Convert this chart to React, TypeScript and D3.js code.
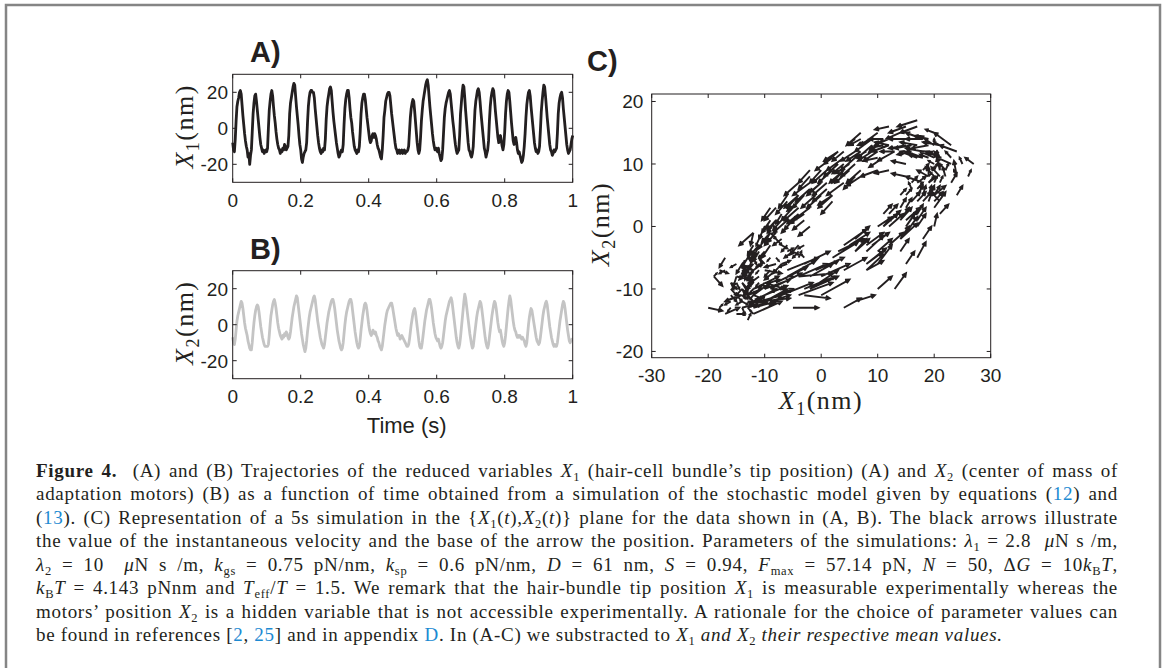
import { useEffect, useRef } from "react"
import * as d3 from "d3"

// samples of both traces, 2.5 ms apart (t = 0 .. 1 s)
const sampleStep = 0.0025

// hair-bundle tip position X1 (nm)
const x1Values = [
  -8, -12, -13, -6, 4, 12, 15, 17, 20, 21, 19, 13, 7, 2, -3, -7, -10, -12, -16, -14,
  -20, -15, -12, -2, 8, 14, 18, 19, 15, 10, 5, 0, -5, -9, -11, -13, -12, -14, -13, -12,
  -13, -11, 0, 10, 15, 19, 21, 18, 12, 7, 3, -2, -6, -9, -11, -12, -14, -12, -13, -11,
  -12, -9, -10, -12, -11, -10, -4, 8, 14, 17, 20, 23, 25, 24, 18, 12, 7, 2, -4, -9,
  -12, -17, -19, -16, -14, -13, -12, -8, 3, 12, 17, 20, 21, 21, 20, 20, 17, 11, 6, 1,
  -4, -8, -11, -13, -14, -12, -13, -11, -12, -6, 5, 12, 16, 19, 22, 23, 21, 15, 9, 4,
  0, -4, -8, -11, -14, -16, -15, -13, -12, -13, -9, 2, 11, 16, 19, 21, 21, 17, 11, 6,
  3, -2, -6, -10, -12, -13, -14, -12, -13, -10, -2, 8, 14, 17, 19, 19, 16, 11, 6, 2,
  -2, -6, -8, -7, -4, -3, -5, -3, -4, -6, -9, -11, -12, -14, -16, -17, -12, -4, 6, 10,
  15, 17, 19, 20, 20, 18, 13, 8, 4, 0, -4, -8, -11, -12, -14, -13, -12, -14, -13, -12,
  -14, -13, -12, -14, -13, -13, -12, -10, -2, 6, 11, 14, 16, 15, 10, 4, -2, -8, -12, -14,
  -12, -5, 4, 10, 15, 18, 21, 24, 26, 27, 24, 18, 12, 7, 2, -3, -7, -10, -12, -11,
  -12, -13, -11, -14, -16, -18, -17, -12, -3, 6, 11, 14, 16, 18, 20, 21, 19, 14, 9, 4,
  0, -5, -9, -12, -14, -13, -12, -4, 8, 14, 20, 24, 23, 17, 10, 4, -2, -8, -12, -13,
  -15, -16, -14, -10, 0, 10, 15, 18, 21, 22, 20, 15, 9, 4, -1, -6, -11, -13, -16, -14,
  -12, -7, 4, 12, 17, 20, 22, 21, 16, 10, 5, 0, -5, -8, -6, -4, -7, -10, -12, -9,
  -2, 8, 15, 19, 21, 20, 15, 9, 3, -2, -7, -9, -7, -5, -8, -12, -14, -13, -15, -17,
  -19, -18, -15, -10, -3, 6, 13, 17, 20, 21, 18, 12, 7, 2, -3, -8, -11, -13, -12, -14,
  -13, -10, -1, 9, 15, 20, 24, 23, 18, 12, 6, 1, -4, -9, -12, -13, -15, -14, -12, -13,
  -12, -11, -3, 8, 14, 17, 19, 20, 17, 11, 6, 1, -4, -9, -12, -14, -13, -12, -9, -6,
  -4,
]

// adaptation-motor position X2 (nm)
const x2Values = [
  -7, -10, -11, -8, -3, 2, 5, 7, 9, 11, 13, 12, 9, 5, 1, -2, -4, -6, -9, -11,
  -13, -14, -14, -10, -4, 1, 5, 8, 10, 11, 10, 7, 3, -1, -4, -7, -9, -11, -12, -12,
  -12, -12, -11, -6, 0, 5, 8, 11, 13, 14, 12, 9, 5, 1, -2, -4, -6, -7, -8, -6,
  -7, -5, -6, -4, -5, -7, -8, -7, -4, 0, 4, 7, 10, 12, 14, 16, 15, 11, 7, 3,
  -1, -5, -8, -11, -13, -15, -13, -9, -4, 0, 4, 7, 9, 11, 13, 15, 16, 14, 10, 6,
  2, -1, -4, -7, -9, -11, -12, -13, -11, -7, -3, 1, 4, 7, 9, 11, 13, 14, 14, 12,
  9, 5, 1, -3, -6, -9, -11, -13, -14, -13, -10, -5, 0, 4, 7, 9, 11, 13, 14, 14,
  12, 8, 4, 0, -4, -7, -10, -12, -13, -12, -8, -3, 1, 5, 8, 11, 12, 11, 8, 4,
  0, -3, -5, -6, -5, -3, -4, -5, -4, -6, -7, -9, -10, -12, -13, -14, -12, -8, -4, 0,
  3, 6, 8, 9, 10, 11, 12, 12, 10, 7, 4, 1, -2, -4, -6, -5, -6, -8, -7, -6,
  -7, -8, -9, -10, -11, -12, -12, -11, -8, -4, 0, 3, 6, 8, 9, 7, 3, -1, -5, -9,
  -12, -13, -13, -10, -6, -2, 2, 5, 8, 10, 12, 14, 14, 12, 9, 5, 1, -2, -5, -7,
  -8, -9, -8, -10, -12, -13, -12, -10, -6, -2, 2, 5, 7, 9, 11, 13, 14, 15, 13, 9,
  5, 1, -3, -7, -10, -12, -13, -11, -7, -2, 3, 8, 13, 17, 15, 11, 7, 3, -1, -5,
  -8, -11, -13, -12, -8, -4, 0, 4, 7, 9, 11, 13, 12, 9, 5, 1, -3, -7, -10, -12,
  -13, -11, -7, -3, 1, 5, 8, 11, 13, 12, 9, 5, 1, -2, -4, -3, -6, -9, -11, -12,
  -10, -6, -1, 4, 9, 13, 16, 14, 10, 6, 2, -1, -3, -4, -6, -7, -6, -7, -6, -7,
  -8, -7, -8, -9, -11, -12, -10, -5, 0, 4, 7, 9, 8, 5, 2, -1, -4, -7, -9, -10,
  -11, -10, -7, -3, 1, 5, 8, 10, 12, 13, 11, 7, 3, -1, -4, -7, -9, -11, -12, -11,
  -12, -12, -10, -6, -2, 2, 5, 8, 11, 13, 12, 9, 5, 1, -3, -6, -9, -10, -9, -8,
  -8,
]

const timeTicks = [0, 0.2, 0.4, 0.6, 0.8, 1]
const timeTickLabels = ["0", "0.2", "0.4", "0.6", "0.8", "1"]
const traceTicks = [-20, 0, 20]
const phaseXTicks = [-30, -20, -10, 0, 10, 20, 30]
const phaseYTicks = [-20, -10, 0, 10, 20]

const SANS = '"Liberation Sans", Arial, Helvetica, sans-serif'
const SERIF = '"Liberation Serif", "Times New Roman", serif'
const INK = "#231f20"
const LINK = "#1c8ad2"
const TICK = 4

const I = ({ children }: { children: any }) => <tspan fontStyle="italic">{children}</tspan>
const Sub = ({ children }: { children: any }) => (
  <tspan fontSize={12.5} baselineShift={-4}>{children}</tspan>
)
const Link = ({ children }: { children: any }) => <tspan fill={LINK}>{children}</tspan>

// X_n(nm) axis label in the math font
function MathLabel({ n, transform }: { n: string; transform: string }) {
  return (
    <text transform={transform} textAnchor="middle" fontFamily={SERIF} fontSize={26} letterSpacing={1.5} fill={INK}>
      <tspan fontStyle="italic">X</tspan>
      <tspan fontSize={18} baselineShift={-6}>{n}</tspan>
      <tspan>(nm)</tspan>
    </text>
  )
}

function TracePanel({
  values,
  color,
  top,
  letter,
  n,
  showTime,
}: {
  values: number[]
  color: string
  top: number
  letter: string
  n: string
  showTime?: boolean
}) {
  const left = 232.7
  const right = 572.7
  const bottom = top + 108
  const x = d3.scaleLinear().domain([0, 1]).range([left, right])
  const y = d3.scaleLinear().domain([-30, 30]).range([bottom, top])
  const line = d3
    .line<number>()
    .x((_, i) => x(i * sampleStep))
    .y((d) => y(d))

  return (
    <g>
      <text x={250} y={top - 12} fontFamily={SANS} fontWeight="bold" fontSize={29} fill={INK}>
        {letter}
      </text>
      <path d={line(values) ?? ""} fill="none" stroke={color} strokeWidth={2.8} strokeLinejoin="round" />
      <rect x={left} y={top} width={right - left} height={bottom - top} fill="none" stroke={INK} strokeWidth={1} />
      {timeTicks.map((t, i) => (
        <g key={t}>
          <line x1={x(t)} x2={x(t)} y1={bottom} y2={bottom - TICK} stroke={INK} />
          <line x1={x(t)} x2={x(t)} y1={top} y2={top + TICK} stroke={INK} />
          <text x={x(t)} y={bottom + 24.5} textAnchor="middle" fontFamily={SANS} fontSize={19} fill={INK}>
            {timeTickLabels[i]}
          </text>
        </g>
      ))}
      {traceTicks.map((v) => (
        <g key={v}>
          <line x1={left} x2={left + TICK} y1={y(v)} y2={y(v)} stroke={INK} />
          <line x1={right} x2={right - TICK} y1={y(v)} y2={y(v)} stroke={INK} />
          <text x={228} y={y(v)} dy="0.36em" textAnchor="end" fontFamily={SANS} fontSize={19} fill={INK}>
            {v}
          </text>
        </g>
      ))}
      <MathLabel n={n} transform={`translate(193,${(top + bottom) / 2 - 2}) rotate(-90)`} />
      {showTime && (
        <text x={406.7} y={bottom + 54} textAnchor="middle" fontFamily={SANS} fontSize={22} fill={INK}>
          Time (s)
        </text>
      )}
    </g>
  )
}

function PhasePanel() {
  const left = 651.7
  const right = 990.7
  const top = 94
  const bottom = 357.7
  const x = d3.scaleLinear().domain([-30, 30]).range([left, right])
  const y = d3.scaleLinear().domain([-21, 21.2]).range([bottom, top])
  const arrowScale = 0.5
  const headAngle = (26 * Math.PI) / 180

  // quiver: base at (X1, X2), pointing along the velocity to the next sample
  const arrows = x1Values.slice(0, -1).map((v, i) => {
    const x0 = x(v)
    const y0 = y(x2Values[i])
    const x1 = x0 + (x(x1Values[i + 1]) - x0) * arrowScale
    const y1 = y0 + (y(x2Values[i + 1]) - y0) * arrowScale
    const len = Math.hypot(x1 - x0, y1 - y0)
    if (len < 0.01) return ""
    const a = Math.atan2(y1 - y0, x1 - x0)
    const h = Math.min(len * 0.35, 4.5)
    const hx1 = x1 - h * Math.cos(a - headAngle)
    const hy1 = y1 - h * Math.sin(a - headAngle)
    const hx2 = x1 - h * Math.cos(a + headAngle)
    const hy2 = y1 - h * Math.sin(a + headAngle)
    return `M${x0},${y0}L${x1},${y1}M${hx1},${hy1}L${x1},${y1}L${hx2},${hy2}`
  })

  return (
    <g>
      <text x={587} y={71} fontFamily={SANS} fontWeight="bold" fontSize={29} fill={INK}>
        C)
      </text>
      <path d={arrows.join("")} fill="none" stroke={INK} strokeWidth={1.9} />
      <rect x={left} y={top} width={right - left} height={bottom - top} fill="none" stroke={INK} strokeWidth={1} />
      {phaseXTicks.map((t) => (
        <g key={t}>
          <line x1={x(t)} x2={x(t)} y1={bottom} y2={bottom - TICK} stroke={INK} />
          <line x1={x(t)} x2={x(t)} y1={top} y2={top + TICK} stroke={INK} />
          <text x={x(t)} y={bottom + 24} textAnchor="middle" fontFamily={SANS} fontSize={19} fill={INK}>
            {t}
          </text>
        </g>
      ))}
      {phaseYTicks.map((v) => (
        <g key={v}>
          <line x1={left} x2={left + TICK} y1={y(v)} y2={y(v)} stroke={INK} />
          <line x1={right} x2={right - TICK} y1={y(v)} y2={y(v)} stroke={INK} />
          <text x={643.3} y={y(v)} dy="0.36em" textAnchor="end" fontFamily={SANS} fontSize={19} fill={INK}>
            {v}
          </text>
        </g>
      ))}
      <MathLabel n="1" transform="translate(821,409)" />
      <MathLabel n="2" transform="translate(609,224) rotate(-90)" />
    </g>
  )
}

function Caption() {
  const ref = useRef<SVGGElement>(null)
  const x0 = 36
  const base = 476.5
  const gap = 23.5
  const full = 1082

  // justify lines 1-7 through the word spacing
  useEffect(() => {
    if (!ref.current) return
    ref.current.querySelectorAll<SVGTextElement>("text[data-justify]").forEach((t) => {
      t.style.wordSpacing = "0px"
      const natural = t.getComputedTextLength()
      const spaces = (t.textContent ?? "").split(" ").length - 1
      if (spaces > 0) t.style.wordSpacing = `${(full - natural) / spaces}px`
    })
  }, [])

  const props = (k: number, justify = true) => ({
    x: x0,
    y: base + k * gap,
    ...(justify ? { "data-justify": "1" } : {}),
    style: { whiteSpace: "pre" as const },
  })
  return (
    <g ref={ref} fontFamily={SERIF} fontSize={19} letterSpacing={0.7} fill={INK}>
      <text {...props(0)}>
        <tspan fontWeight="bold">Figure 4.</tspan>
        {"  (A) and (B) Trajectories of the reduced variables "}
        <I>X</I>
        <Sub>1</Sub>
        {" (hair-cell bundle’s tip position) (A) and "}
        <I>X</I>
        <Sub>2</Sub>
        {" (center of mass of"}
      </text>
      <text {...props(1)}>
        {"adaptation motors) (B) as a function of time obtained from a simulation of the stochastic model given by equations ("}
        <Link>12</Link>
        {") and"}
      </text>
      <text {...props(2)}>
        {"("}
        <Link>13</Link>
        {"). (C) Representation of a 5s simulation in the {"}
        <I>X</I>
        <Sub>1</Sub>
        {"("}
        <I>t</I>
        {"),"}
        <I>X</I>
        <Sub>2</Sub>
        {"("}
        <I>t</I>
        {")} plane for the data shown in (A, B). The black arrows illustrate"}
      </text>
      <text {...props(3)}>
        {"the value of the instantaneous velocity and the base of the arrow the position. Parameters of the simulations: "}
        <I>λ</I>
        <Sub>1</Sub>
        {" = 2.8  "}
        <I>μ</I>
        {"N s /m,"}
      </text>
      <text {...props(4)}>
        <I>λ</I>
        <Sub>2</Sub>
        {" = 10  "}
        <I>μ</I>
        {"N s /m, "}
        <I>k</I>
        <Sub>gs</Sub>
        {" = 0.75 pN/nm, "}
        <I>k</I>
        <Sub>sp</Sub>
        {" = 0.6 pN/nm, "}
        <I>D</I>
        {" = 61 nm, "}
        <I>S</I>
        {" = 0.94, "}
        <I>F</I>
        <Sub>max</Sub>
        {" = 57.14 pN, "}
        <I>N</I>
        {" = 50, Δ"}
        <I>G</I>
        {" = 10"}
        <I>k</I>
        <Sub>B</Sub>
        <I>T</I>
        {","}
      </text>
      <text {...props(5)}>
        <I>k</I>
        <Sub>B</Sub>
        <I>T</I>
        {" = 4.143 pNnm and "}
        <I>T</I>
        <Sub>eff</Sub>
        {"/"}
        <I>T</I>
        {" = 1.5. We remark that the hair-bundle tip position "}
        <I>X</I>
        <Sub>1</Sub>
        {" is measurable experimentally whereas the"}
      </text>
      <text {...props(6)}>
        {"motors’ position "}
        <I>X</I>
        <Sub>2</Sub>
        {" is a hidden variable that is not accessible experimentally. A rationale for the choice of parameter values can"}
      </text>
      <text {...props(7, false)}>
        {"be found in references ["}
        <Link>2</Link>
        {", "}
        <Link>25</Link>
        {"] and in appendix "}
        <Link>D</Link>
        {". In (A-C) we substracted to "}
        <I>X</I>
        <Sub>1</Sub>
        <I>{" and "}</I>
        <I>X</I>
        <Sub>2</Sub>
        <I>{" their respective mean values."}</I>
      </text>
    </g>
  )
}

export default function App() {
  return (
    <svg
      width={1165}
      height={668}
      viewBox="0 0 1165 668"
      style={{ position: "absolute", left: 0, top: 0, background: "#fff" }}
    >
      <rect x={6} y={5} width={1154} height={700} fill="#fff" stroke="#858585" strokeWidth={2.5} />
      <TracePanel values={x1Values} color={INK} top={74.3} letter="A)" n="1" />
      <TracePanel values={x2Values} color="#c4c4c4" top={270.7} letter="B)" n="2" showTime />
      <PhasePanel />
      <Caption />
    </svg>
  )
}
